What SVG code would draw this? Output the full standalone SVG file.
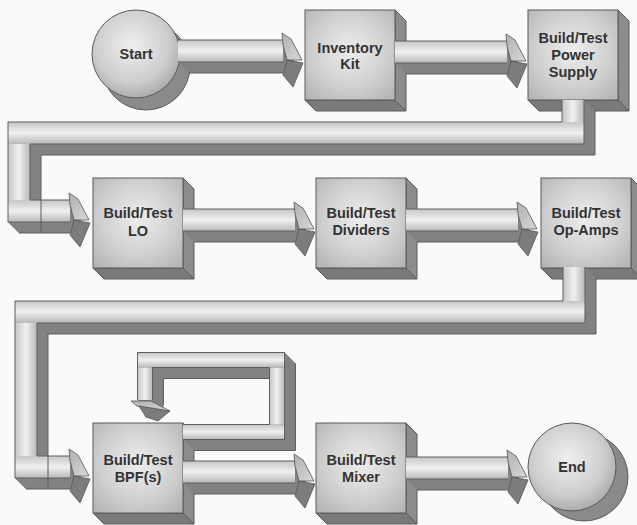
<svg xmlns="http://www.w3.org/2000/svg" xmlns:xlink="http://www.w3.org/1999/xlink" width="637" height="525" viewBox="0 0 637 525">
<style>
.face{fill:url(#boxFace);stroke:#5a5a5a;stroke-width:1}
.side{fill:#8c8c8c;stroke:#5a5a5a;stroke-width:1}
.bot{fill:#7a7a7a;stroke:#5a5a5a;stroke-width:1}
.cface{fill:url(#circFace);stroke:#5a5a5a;stroke-width:1}
.cshadow{fill:#8a8a8a;stroke:#5a5a5a;stroke-width:1}
.deep{fill:#828282;stroke:none}
.ph{fill:url(#pipeH);stroke:none}
.pv{fill:url(#pipeV);stroke:none}
.edge{fill:none;stroke:#5e5e5e;stroke-width:1}
.lbl{font-family:"Liberation Sans",Arial,sans-serif;font-weight:bold;font-size:14.5px;fill:#333;text-anchor:middle}
</style>
<defs>
<radialGradient id="boxFace" cx="50%" cy="45%" r="70%">
<stop offset="0" stop-color="#ededed"/><stop offset="0.6" stop-color="#cfcfcf"/><stop offset="1" stop-color="#b4b4b4"/>
</radialGradient>
<radialGradient id="circFace" cx="45%" cy="40%" r="60%">
<stop offset="0" stop-color="#f0f0f0"/><stop offset="0.7" stop-color="#cdcdcd"/><stop offset="1" stop-color="#adadad"/>
</radialGradient>
<linearGradient id="pipeH" x1="0" y1="0" x2="0" y2="1">
<stop offset="0" stop-color="#c6c6c6"/><stop offset="0.5" stop-color="#f0f0f0"/><stop offset="1" stop-color="#b8b8b8"/>
</linearGradient>
<linearGradient id="pipeV" x1="0" y1="0" x2="1" y2="0">
<stop offset="0" stop-color="#c6c6c6"/><stop offset="0.5" stop-color="#f0f0f0"/><stop offset="1" stop-color="#b8b8b8"/>
</linearGradient>
<linearGradient id="headL" x1="0" y1="0" x2="1" y2="1">
<stop offset="0" stop-color="#b0b0b0"/><stop offset="1" stop-color="#d8d8d8"/>
</linearGradient>
<g id="head">
<polygon points="-1,-18 8,-12 19,9 4,9 0,-6" fill="url(#headL)" stroke="#555" stroke-width="0.8"/>
<polygon points="4,9 20,12 10,36 0,24" fill="#7c7c7c" stroke="#555" stroke-width="0.8"/>
</g>
</defs>
<rect x="0" y="0" width="637" height="525" fill="#fafafa"/>

<g id="start">
<circle class="cshadow" cx="146" cy="66" r="44"/>
<circle class="cface" cx="136" cy="54" r="44"/>
<text class="lbl" x="136" y="59">Start</text>
</g>
<g id="inventory">
<polygon class="side" points="395,10 406,21 406,111 395,100"/>
<polygon class="bot" points="305,100 395,100 406,111 316,111"/>
<rect class="face" x="305" y="10" width="90" height="90"/>
<text class="lbl" x="350" y="53">Inventory</text>
<text class="lbl" x="350" y="69">Kit</text>
</g>
<g id="power">
<polygon class="side" points="618,10 629,21 629,111 618,100"/>
<polygon class="bot" points="528,100 618,100 629,111 539,111"/>
<rect class="face" x="528" y="10" width="90" height="90"/>
<text class="lbl" x="573" y="43">Build/Test</text>
<text class="lbl" x="573" y="60">Power</text>
<text class="lbl" x="573" y="77">Supply</text>
</g>
<g id="lo">
<polygon class="side" points="183,178 194,189 194,279 183,268"/>
<polygon class="bot" points="93,268 183,268 194,279 104,279"/>
<rect class="face" x="93" y="178" width="90" height="90"/>
<text class="lbl" x="138" y="218">Build/Test</text>
<text class="lbl" x="138" y="236">LO</text>
</g>
<g id="dividers">
<polygon class="side" points="406,178 417,189 417,279 406,268"/>
<polygon class="bot" points="316,268 406,268 417,279 327,279"/>
<rect class="face" x="316" y="178" width="90" height="90"/>
<text class="lbl" x="361" y="218">Build/Test</text>
<text class="lbl" x="361" y="235">Dividers</text>
</g>
<g id="opamps">
<polygon class="side" points="631,178 642,189 642,279 631,268"/>
<polygon class="bot" points="541,268 631,268 642,279 552,279"/>
<rect class="face" x="541" y="178" width="90" height="90"/>
<text class="lbl" x="586" y="218">Build/Test</text>
<text class="lbl" x="586" y="235">Op-Amps</text>
</g>
<g id="bpf">
<polygon class="side" points="183,423 194,434 194,524 183,513"/>
<polygon class="bot" points="93,513 183,513 194,524 104,524"/>
<rect class="face" x="93" y="423" width="90" height="90"/>
<text class="lbl" x="138" y="465">Build/Test</text>
<text class="lbl" x="138" y="482">BPF(s)</text>
</g>
<g id="mixer">
<polygon class="side" points="406,423 417,434 417,524 406,513"/>
<polygon class="bot" points="316,513 406,513 417,524 327,524"/>
<rect class="face" x="316" y="423" width="90" height="90"/>
<text class="lbl" x="361" y="465">Build/Test</text>
<text class="lbl" x="361" y="482">Mixer</text>
</g>
<g id="end">
<circle class="cshadow" cx="584" cy="477" r="44"/>
<circle class="cface" cx="572" cy="467" r="44"/>
<text class="lbl" x="572" y="472">End</text>
</g>

<g id="connectors">
<!-- straight arrows -->
<g id="a1">
<polygon class="deep" points="178,40 283,40 294,51 294,73 189,73 178,62"/>
<rect class="ph" x="178" y="40" width="105" height="22"/>
<path class="edge" d="M178,40 H283 M178,62 H283 M189,73 H283"/>
<use xlink:href="#head" transform="translate(283,51)"/>
</g>
<g id="a2">
<polygon class="deep" points="395,41 507,41 518,52 518,74 406,74 395,63"/>
<rect class="ph" x="395" y="41" width="112" height="22"/>
<path class="edge" d="M395,41 H507 M395,63 H507 M406,74 H507"/>
<use xlink:href="#head" transform="translate(507,52)"/>
</g>
<g id="a3">
<polygon class="deep" points="183,209 295,209 306,220 306,242 194,242 183,231"/>
<rect class="ph" x="183" y="209" width="112" height="22"/>
<path class="edge" d="M183,209 H295 M183,231 H295 M194,242 H295"/>
<use xlink:href="#head" transform="translate(295,220)"/>
</g>
<g id="a4">
<polygon class="deep" points="406,209 518,209 529,220 529,242 417,242 406,231"/>
<rect class="ph" x="406" y="209" width="112" height="22"/>
<path class="edge" d="M406,209 H518 M406,231 H518 M417,242 H518"/>
<use xlink:href="#head" transform="translate(518,220)"/>
</g>
<g id="a5">
<polygon class="deep" points="183,461 295,461 306,472 306,494 194,494 183,483"/>
<rect class="ph" x="183" y="461" width="112" height="22"/>
<path class="edge" d="M183,461 H295 M183,483 H295 M194,494 H295"/>
<use xlink:href="#head" transform="translate(295,472)"/>
</g>
<g id="a6">
<polygon class="deep" points="406,457 508,457 519,468 519,490 417,490 406,479"/>
<rect class="ph" x="406" y="457" width="102" height="22"/>
<path class="edge" d="M406,457 H508 M406,479 H508 M417,490 H508"/>
<use xlink:href="#head" transform="translate(508,468)"/>
</g>
<!-- Power Supply to LO -->
<g id="p1">
<polygon class="deep" points="562,100 584,100 595,111 595,155 573,155 562,144"/>
<polygon class="deep" points="8,122 584,122 595,133 595,155 19,155 8,144"/>
<polygon class="deep" points="8,122 30,122 41,133 41,233 19,233 8,222"/>
<polygon class="deep" points="8,200 70,200 81,211 81,233 19,233 8,222"/>
<rect class="pv" x="562" y="100" width="22" height="22"/>
<rect class="ph" x="8" y="122" width="576" height="22"/>
<rect class="pv" x="8" y="144" width="22" height="56"/>
<rect class="ph" x="8" y="200" width="62" height="22"/>
<path class="edge" d="M584,100 V144 H30 V200 H70 M70,222 H8 V122 H562 V100 M595,111 V155 H41 V233 H19 M41,233 H70"/>
<use xlink:href="#head" transform="translate(70,211)"/>
</g>
<!-- Op-Amps to BPF -->
<g id="p2">
<polygon class="deep" points="563,267 585,267 596,278 596,334 574,334 563,323"/>
<polygon class="deep" points="15,301 585,301 596,312 596,334 26,334 15,323"/>
<polygon class="deep" points="15,301 37,301 48,312 48,489 26,489 15,478"/>
<polygon class="deep" points="15,456 70,456 81,467 81,489 26,489 15,478"/>
<rect class="pv" x="563" y="267" width="22" height="34"/>
<rect class="ph" x="15" y="301" width="570" height="22"/>
<rect class="pv" x="15" y="323" width="22" height="133"/>
<rect class="ph" x="15" y="456" width="55" height="22"/>
<path class="edge" d="M585,267 V323 H37 V456 H70 M70,478 H15 V301 H563 V267 M596,278 V334 H48 V489 H26 M48,489 H70"/>
<use xlink:href="#head" transform="translate(70,467)"/>
</g>
<!-- BPF loop -->
<g id="p3">
<polygon class="deep" points="183,424.5 284.5,424.5 295.5,435.5 295.5,450.5 194,450.5 183,439.5"/>
<polygon class="deep" points="269.5,352.5 284.5,352.5 295.5,363.5 295.5,450.5 280.5,450.5 269.5,439.5"/>
<polygon class="deep" points="137.5,352.5 284.5,352.5 295.5,363.5 295.5,378.5 148.5,378.5 137.5,367.5"/>
<polygon class="deep" points="137.5,352.5 152.5,352.5 163.5,363.5 163.5,411 148.5,411 137.5,400"/>
<rect class="ph" x="183" y="424.5" width="101.5" height="15"/>
<rect class="pv" x="269.5" y="367.5" width="15" height="57"/>
<rect class="ph" x="137.5" y="352.5" width="147" height="15"/>
<rect class="pv" x="137.5" y="367.5" width="15" height="32.5"/>
<path class="edge" d="M183,424.5 H269.5 V367.5 H152.5 V400 M137.5,400 V352.5 H284.5 V439.5 H183 M295.5,363.5 V450.5 H194 M163.5,378.5 V405 M163.5,378.5 H269.5"/>
<polygon points="131,401 151,401 170,411 148,409 137,406" fill="url(#headL)" stroke="#555" stroke-width="0.8"/>
<polygon points="139,406 170,411 158,421 146,417" fill="#7c7c7c" stroke="#555" stroke-width="0.8"/>
</g>
</g>
</svg>
